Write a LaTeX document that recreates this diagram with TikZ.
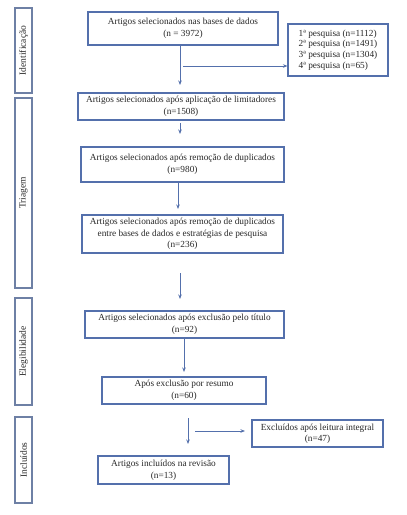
\documentclass[tikz,border=0pt]{standalone}
\usepackage{fontspec}
\setmainfont{Liberation Serif}
\usetikzlibrary{arrows.meta}
\definecolor{bordc}{RGB}{84,112,172}
\definecolor{sidec}{RGB}{110,128,165}
\definecolor{txtc}{RGB}{40,40,40}
\begin{document}
\begin{tikzpicture}[x=1pt,y=-1pt,
  mbox/.style={draw=bordc,line width=1.1pt,fill=white,inner sep=1pt,align=center,text=txtc,font=\fontsize{9.3}{11.5}\selectfont},
  sbox/.style={draw=sidec,line width=1.1pt,fill=white,inner sep=0pt,minimum width=17pt,text=txtc,font=\fontsize{9.5}{10}\selectfont},
  arr/.style={draw=bordc,line width=1pt,-{Stealth[length=4.5pt,width=3.5pt]}}]
\useasboundingbox (0,0) rectangle (407,515);
\fill[white] (0,0) rectangle (407,515);
% side boxes
\node[sbox,minimum height=85pt] (sid) at (23.5,50.5) {\rotatebox{90}{Identificação}};
\node[sbox,minimum height=190pt] (str) at (23.5,193) {\rotatebox{90}{Triagem}};
\node[sbox,minimum height=107pt] (sel) at (23.5,351.5) {\rotatebox{90}{Elegibilidade}};
\node[sbox,minimum height=86pt] (sin) at (23.5,460) {\rotatebox{90}{Incluídos}};
% main boxes
\node[mbox,minimum width=190pt,minimum height=33pt] (b1) at (183,28.5) {Artigos selecionados nas bases de dados\\(n = 3972)};
\node[mbox,minimum width=100pt,minimum height=52pt,align=left,font=\fontsize{9.3}{10.8}\selectfont] (b2) at (338,50) {1ª pesquisa (n=1112)\\2ª pesquisa (n=1491)\\3ª pesquisa (n=1304)\\4ª pesquisa (n=65)};
\node[mbox,minimum width=206pt,minimum height=27pt] (b3) at (181,106.5) {Artigos selecionados após aplicação de limitadores\\(n=1508)};
\node[mbox,minimum width=203pt,minimum height=35pt] (b4) at (182.5,164.5) {Artigos selecionados após remoção de duplicados\\(n=980)};
\node[mbox,minimum width=201pt,minimum height=38pt] (b5) at (182.5,234) {Artigos selecionados após remoção de duplicados\\entre bases de dados e estratégias de pesquisa\\(n=236)};
\node[mbox,minimum width=199pt,minimum height=27pt] (b6) at (184.5,324.5) {Artigos selecionados após exclusão pelo título\\(n=92)};
\node[mbox,minimum width=164pt,minimum height=27pt] (b7) at (184,390.5) {Após exclusão por resumo\\(n=60)};
\node[mbox,minimum width=131pt,minimum height=27pt] (b8) at (317.5,433.5) {Excluídos após leitura integral\\(n=47)};
\node[mbox,minimum width=131pt,minimum height=28pt] (b9) at (163.5,470) {Artigos incluídos na revisão\\(n=13)};
% arrow coordinates
\coordinate (a1e) at (180,85);
\coordinate (h1s) at (183,66);
\coordinate (a2s) at (180,123);
\coordinate (a2e) at (180,134);
\coordinate (a3e) at (178,209);
\coordinate (a4s) at (180,273);
\coordinate (a4e) at (180,299);
\coordinate (a5e) at (184,372);
\coordinate (a6s) at (188,418);
\coordinate (a6e) at (188,444);
\coordinate (h2s) at (195,431);
\coordinate (h2e) at (245,431);
% arrows
\draw[arr] (b1.south -| a1e) -- (a1e);
\draw[arr] (h1s) -- (h1s -| b2.west);
\draw[arr] (a2s) -- (a2e);
\draw[arr] (b4.south -| a3e) -- (a3e);
\draw[arr] (a4s) -- (a4e);
\draw[arr] (b6.south -| a5e) -- (a5e);
\draw[arr] (a6s) -- (a6e);
\draw[arr] (h2s) -- (h2e);
\end{tikzpicture}
\end{document}
